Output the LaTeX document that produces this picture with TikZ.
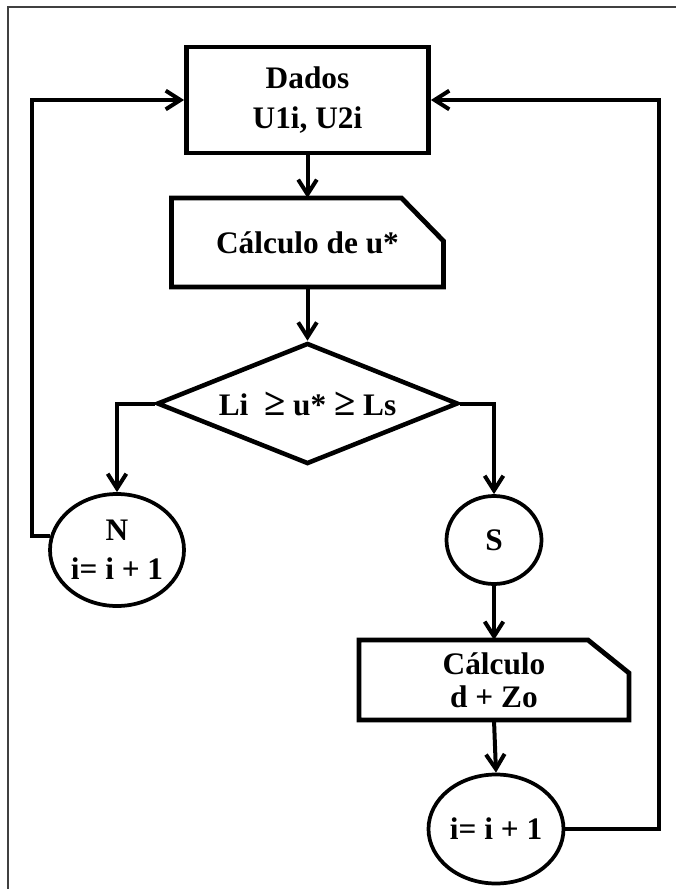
\documentclass[tikz,border=0pt]{standalone}
\usepackage{fontspec}
\setmainfont{Liberation Serif}
\usetikzlibrary{arrows.meta,shapes.geometric}

\newcommand{\geqsign}{{\fontsize{29}{29}\selectfont ≥}}

\tikzset{every picture/.style={line width=3pt}}
\tikzset{
  flowtext/.style={font=\fontsize{23.5}{28}\selectfont\bfseries, align=center, inner sep=0.75pt},
  databox/.style={flowtext, draw, line width=3.6pt, rectangle},
  calcbox/.style={flowtext, rectangle},
  calcline/.style={line width=3.6pt, line join=miter},
  testbox/.style={flowtext, draw, line width=3.4pt, diamond, aspect=2.5, inner sep=0pt},
  endbox/.style={flowtext, draw, line width=2.8pt, ellipse, inner sep=0pt},
  flowarrow/.style={-{Straight Barb[length=11pt,width=14pt]}, line width=3pt},
}

\begin{document}
\begin{tikzpicture}[x=0.75pt,y=0.75pt,yscale=-1,xscale=1]
\useasboundingbox (0,0) rectangle (676,889);

%Shape: frame
\draw [line width=1.1pt, color=black!75] (8,889) -- (8,7) -- (676,7);

%Shape: Rectangle [id:dados]
\node [databox, minimum width=181.5pt, minimum height=79.5pt] (dados) at (307.5,100) {Dados\\[1.5pt]U1i, U2i};
%Shape: Chamfered [id:calc1]
\node [calcbox, minimum width=201pt, minimum height=63.75pt] (calc1) at (307.5,242.5) {Cálculo de u*};
\draw [calcline] (calc1.south west) -- (calc1.north west) -- ([xshift=-31.5pt]calc1.north east) -- ([yshift=32.25pt]calc1.north east) -- (calc1.south east) -- cycle;
%Shape: Diamond [id:test]
\node [testbox, minimum width=225.75pt, minimum height=90.75pt] (test) at (307.5,403.5) {Li\ \ \geqsign\ u* \geqsign\ Ls};
%Shape: Ellipse [id:nodeN]
\node [endbox, minimum width=100.5pt, minimum height=84pt] (nodeN) at (117,550) {N\\[1.5pt]i= i + 1};
%Shape: Ellipse [id:nodeS]
\node [endbox, minimum width=71.25pt, minimum height=66pt] (nodeS) at (494,540) {S};
%Shape: Chamfered [id:calc2]
\node [calcbox, minimum width=199.5pt, minimum height=57pt] (calc2) at (494,680) {Cálculo\\[-3pt]d + Zo};
\draw [calcline] (calc2.south west) -- (calc2.north west) -- ([xshift=-30.75pt]calc2.north east) -- ([yshift=24.75pt]calc2.north east) -- (calc2.south east) -- cycle;
%Shape: Ellipse [id:inc]
\node [endbox, minimum width=101.25pt, minimum height=81.75pt] (inc) at (496,829) {i= i + 1};

% Connectors
\draw [flowarrow] (dados.south) -- (calc1.north);
\draw [flowarrow] (calc1.south) -- (test.north);
\draw [flowarrow] (test.west) -| (nodeN.north);
\draw [flowarrow] (test.east) -| (nodeS.north);
\draw [flowarrow] (nodeS.south) -- (calc2.north);
\draw [flowarrow] (calc2.south) -- (inc.north);
\draw [flowarrow] (nodeN.168) -- ++(-18,0) |- (dados.west);
\draw [flowarrow] (inc.east) -- ++(94,0) |- (dados.east);

\end{tikzpicture}
\end{document}
